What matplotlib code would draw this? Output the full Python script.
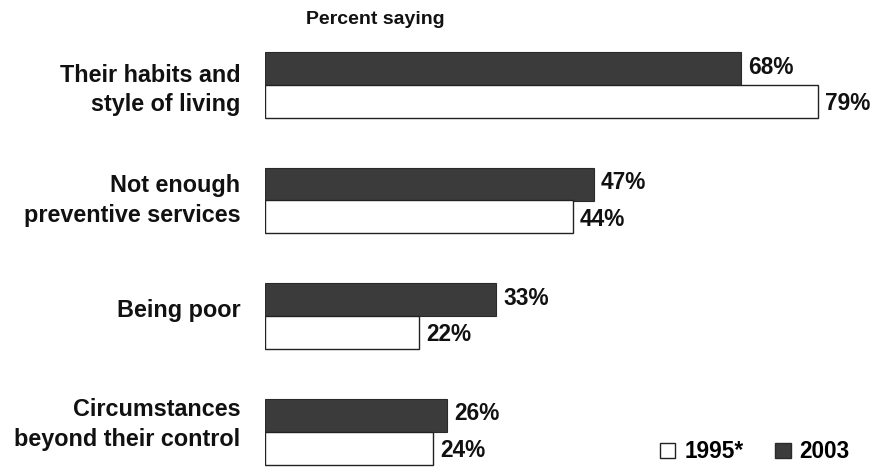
import matplotlib
matplotlib.use("Agg")
import matplotlib.pyplot as plt
from matplotlib.patches import Patch

categories = ["Their habits and\nstyle of living", "Not enough\npreventive services",
              "Being poor", "Circumstances\nbeyond their control"]
vals_2003 = [68, 47, 33, 26]
vals_1995 = [79, 44, 22, 24]
series_names = ["1995*", "2003"]
title = "Percent saying"

plt.rcParams['font.family'] = ['Liberation Sans', 'DejaVu Sans']
plt.rcParams['font.weight'] = 'bold'

W, H = 874, 468
fig = plt.figure(figsize=(W/100, H/100), dpi=100)
left_px = 265
ppu = 7.0
ax = fig.add_axes([left_px/W, 0, (W-left_px)/W, 1])
ax.set_xlim(0, (W-left_px)/ppu)
spacing = 115.5
c0 = 85.0
ax.set_ylim((H-c0)/spacing, -c0/spacing)
ax.axis('off')

bh = 33/spacing
dark = '#3b3b3b'
label_dy_px = [5, 0, -6, -7]
ys = list(range(len(categories)))
for i, y in enumerate(ys):
    ax.barh(y - bh/2, vals_2003[i], height=bh, color=dark, edgecolor='#2a2a2a', linewidth=0.8)
    ax.barh(y + bh/2, vals_1995[i], height=bh, color='white', edgecolor='#222222', linewidth=1.0)
    ax.text(vals_2003[i] + 1.0, y - bh/2 - 0.01, f"{vals_2003[i]}%", va='center', ha='left',
            fontsize=16.3, fontweight='bold', color='#111111')
    ax.text(vals_1995[i] + 1.0, y + bh/2 + 0.02, f"{vals_1995[i]}%", va='center', ha='left',
            fontsize=16.3, fontweight='bold', color='#111111')
    ax.text(-3.5, y + label_dy_px[i]/spacing, categories[i], ha='right', va='center', fontsize=16.8,
            fontweight='bold', color='#111111', linespacing=1.38, clip_on=False)

fig.text(375/W, 1 - 19/H, title, ha='center', va='center', fontsize=14, fontweight='bold', color='#111111')

handles = [Patch(facecolor='white', edgecolor='#222222', label=series_names[0]),
           Patch(facecolor=dark, edgecolor='#2a2a2a', label=series_names[1])]
fig.legend(handles=handles, loc='center right', bbox_to_anchor=(850/W, 1 - 452/H), ncol=2, frameon=False,
           handlelength=0.68, handleheight=0.68, handletextpad=0.4, columnspacing=1.4,
           borderpad=0, borderaxespad=0,
           prop={'weight': 'bold', 'size': 16.3})

fig.savefig("out.png", dpi=100, facecolor='white')
